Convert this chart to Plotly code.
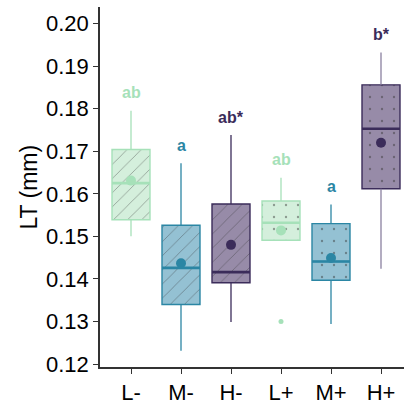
import plotly.graph_objects as go

categories = ["L-", "M-", "H-", "L+", "M+", "H+"]
q1 = [0.1539, 0.1340, 0.1391, 0.1491, 0.1397, 0.1612]
median = [0.1625, 0.1426, 0.1416, 0.1532, 0.1441, 0.1753]
q3 = [0.1704, 0.1526, 0.1576, 0.1583, 0.1530, 0.1856]
lower = [0.1500, 0.1231, 0.1299, 0.1491, 0.1294, 0.1424]
upper = [0.1795, 0.1672, 0.1738, 0.1638, 0.1575, 0.1932]
means = [0.1631, 0.1437, 0.1480, 0.1514, 0.1449, 0.1720]
outlier_cat = ["L+"]
outlier_val = [0.1300]
letters = ["ab", "a", "ab*", "ab", "a", "b*"]

line_col = {"L": "#a6e1b9", "M": "#2b86a4", "H": "#3b2c5a"}
fill_col = {"L": "#d4efdc", "M": "#94c1d3", "H": "#978ba8"}
whisk_col = {"L-": "#a6e1b9", "M-": "#2b86a4", "H-": "#3b2c5a",
             "L+": "#a6e1b9", "M+": "#2b86a4", "H+": "#8a80a0"}

fig = go.Figure()
pos = list(range(len(categories)))
W = 0.76

for i, c in enumerate(categories):
    g = c[0]
    hatch = c.endswith("-")
    fig.add_trace(go.Bar(
        x=[pos[i]], y=[q3[i] - q1[i]], base=[q1[i]], width=W,
        marker=dict(color=fill_col[g], line=dict(width=0),
                    pattern=dict(shape="/" if hatch else ".",
                                 fgcolor="rgba(50,50,50,0.45)" if hatch else "rgba(50,50,50,0.45)",
                                 bgcolor=fill_col[g],
                                 size=10 if hatch else 12,
                                 solidity=0.08 if hatch else 0.03,
                                 fillmode="replace")),
        showlegend=False, hoverinfo="skip"))
    # whiskers
    fig.add_trace(go.Scatter(x=[pos[i], pos[i]], y=[q3[i], upper[i]], mode="lines",
                             line=dict(color=whisk_col[c], width=1.3), showlegend=False))
    fig.add_trace(go.Scatter(x=[pos[i], pos[i]], y=[lower[i], q1[i]], mode="lines",
                             line=dict(color=whisk_col[c], width=1.3), showlegend=False))
    fig.add_trace(go.Box(
        x=[pos[i]], q1=[q1[i]], median=[median[i]], q3=[q3[i]],
        lowerfence=[q1[i]], upperfence=[q3[i]], width=W, whiskerwidth=0,
        fillcolor="rgba(0,0,0,0)", line=dict(color=line_col[g], width=1.4),
        boxpoints=False, showlegend=False, hoverinfo="skip"))
    fig.add_trace(go.Scatter(x=[pos[i]], y=[means[i]], mode="markers",
                             marker=dict(color=line_col[g], size=10), showlegend=False))
    fig.add_annotation(x=pos[i], y=upper[i] + 0.0042, text="<b>%s</b>" % letters[i],
                       showarrow=False, xanchor="center", yanchor="middle",
                       font=dict(size=16, color=line_col[g], family="Liberation Sans"))

# median lines thicker (drawn on top)
for i, c in enumerate(categories):
    g = c[0]
    fig.add_trace(go.Scatter(x=[pos[i] - W / 2, pos[i] + W / 2], y=[median[i], median[i]],
                             mode="lines", line=dict(color=line_col[g], width=2.6),
                             showlegend=False, hoverinfo="skip"))

fig.add_trace(go.Scatter(x=[categories.index(c) for c in outlier_cat], y=outlier_val,
                         mode="markers", marker=dict(color=line_col["L"], size=5),
                         showlegend=False))

fig.add_annotation(text="LT (mm)", textangle=-90, xref="paper", yref="paper",
                   x=-0.235, y=0.5, xanchor="center", yanchor="middle", showarrow=False,
                   font=dict(size=23, color="black", family="Liberation Sans"))

fig.update_layout(
    width=405, height=406,
    margin=dict(l=100, r=1, t=7, b=33),
    plot_bgcolor="white", paper_bgcolor="white",
    barmode="overlay", boxmode="overlay",
    font=dict(family="Liberation Sans", color="black"),
    xaxis=dict(range=[-0.62, 5.46], tickvals=pos, ticktext=categories,
               showgrid=False, zeroline=False, showline=True, linecolor="#333333",
               linewidth=1.5, ticks="outside", ticklen=5, tickcolor="#333333",
               tickwidth=1.3, tickfont=dict(size=22, color="black")),
    yaxis=dict(range=[0.1193, 0.2039], tickvals=[0.12, 0.13, 0.14, 0.15, 0.16, 0.17, 0.18, 0.19, 0.20],
               tickformat=".2f", showgrid=False, zeroline=False, showline=True,
               linecolor="#333333", linewidth=1.5, ticks="outside", ticklen=5,
               tickcolor="#333333", tickwidth=1.3, tickfont=dict(size=22, color="black")),
)

fig.write_html("out.html")
